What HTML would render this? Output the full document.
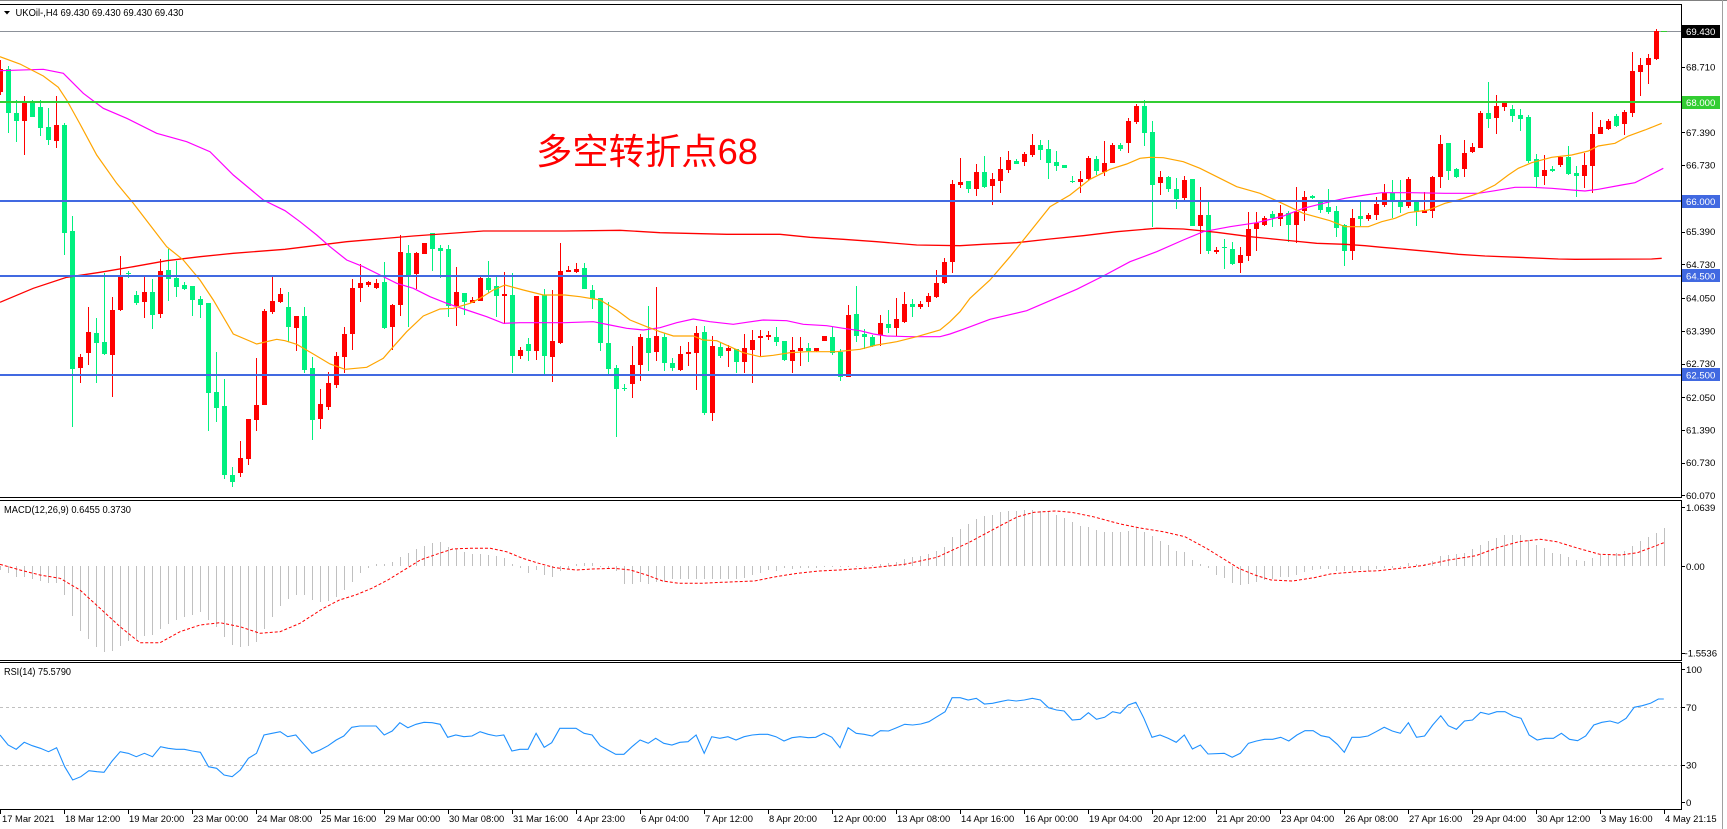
<!DOCTYPE html>
<html><head><meta charset="utf-8">
<style>
html,body{margin:0;padding:0;background:#fff;overflow:hidden;}
svg{display:block;}
text{font-family:"Liberation Sans",sans-serif;}
</style></head>
<body>
<svg width="1727" height="829" viewBox="0 0 1727 829" xmlns="http://www.w3.org/2000/svg">
<rect width="1727" height="829" fill="#fff"/>
<rect x="0" y="0" width="1727" height="1" fill="#808080" shape-rendering="crispEdges"/>
<!-- price line -->
<rect x="0" y="31" width="1682" height="1" fill="#8c9199" shape-rendering="crispEdges"/>
<rect x="1661" y="31" width="6" height="1" fill="#32cd32" shape-rendering="crispEdges"/>
<!-- RSI levels -->
<line x1="0" y1="707.5" x2="1681" y2="707.5" stroke="#c0c0c0" stroke-width="1" stroke-dasharray="3 3" shape-rendering="crispEdges"/>
<line x1="0" y1="765.5" x2="1681" y2="765.5" stroke="#c0c0c0" stroke-width="1" stroke-dasharray="3 3" shape-rendering="crispEdges"/>
<g id="bars" shape-rendering="crispEdges"></g>
<g id="candles" shape-rendering="crispEdges"></g>
<!-- MAs -->
<polyline fill="none" stroke="#ff0000" stroke-width="1.3" points="0,302.3 33.3,288.3 66.7,277.3 100,272.3 133.3,266.7 166.7,260.7 200,256.7 233.3,253.3 285,249.3 346.7,241.7 413.3,236 483.3,231 565,231 620,230.3 660,232.7 726.7,234.3 780,234.3 810,237.3 843.3,239.3 876.7,241.7 916.7,245 960,245.7 983.3,244.3 1016.7,242.7 1050,239 1083.3,235.7 1116.7,231.7 1156.7,228.3 1183.3,229 1216.7,232.3 1250,236.7 1283.3,240 1316.7,243.3 1345,244.3 1365,245.7 1381.7,247.3 1405,249.3 1431.7,251.7 1458.3,254.3 1485,256 1518.3,257.3 1558.3,259 1575,259.3 1651.7,259 1661.7,258.3"/>
<polyline fill="none" stroke="#ff00ff" stroke-width="1.2" points="0,70.7 43.3,69.3 63.3,73.3 83.3,93.3 103.3,108.3 126.7,118.3 156.7,133.3 186.7,141.7 210,151.7 233.3,175 263.3,200 285,210.7 300,221.7 316.7,235 330,246.7 346.7,260 363.3,266.7 380,275 396.7,283.3 413.3,288.3 430,296.7 446.7,303.3 466.7,310 486.7,316.7 503.3,323.3 520,322.7 565,322.7 593.3,321.7 610,325 626.7,328.3 643.3,330 660,327.7 676.7,322.7 693.3,319 710,321.7 733.3,324.3 746.7,322.3 763.3,320 786.7,320.7 803.3,324.3 826.7,325.7 843.3,328.3 860,330.7 873.3,334 886.7,336 910,336.7 940,336.7 950,334 963.3,329.3 990,319.3 1026.7,310.7 1050,300.7 1076.7,289.3 1103.3,276 1130,261.7 1156.7,251.7 1183.3,240 1203.3,231.7 1230,226.7 1256.7,222.7 1283.3,216 1303.3,208.3 1330,201.7 1345,198.3 1365,195 1381.7,192.7 1411.7,192.7 1445,193.3 1478.3,193.3 1495,190.7 1515,187.3 1531.7,187.3 1551.7,188.3 1571.7,190 1585,191 1598.3,189.3 1621.7,185 1635,182.7 1648.3,176 1663.3,168.3"/>
<polyline fill="none" stroke="#ffa500" stroke-width="1.2" points="0,56.7 20,64 43.3,76 58.3,87.3 66.7,100 80,124 96.7,155 116.7,183.3 133.3,203.3 150,225 166.7,246.7 183.3,260 200,280 213.3,300 233.3,334 256.7,344 276.7,339.3 285,340.7 296.7,344.3 313.3,354 330,364 345,369.3 366.7,367.3 383.3,358.3 393.3,346.7 406.7,331.7 423.3,316 440,309 453.3,308.3 470,303.3 480,298.3 493.3,290 505,285 523.3,290 543.3,295 565,295 580,296.7 600,300 616.7,310 630,320 646.7,326.7 660,331.7 673.3,336 693.3,336 703.3,340 716.7,340.7 730,346.7 743.3,352.7 760,356.7 773.3,355.3 790,352.7 806.7,351.7 836.7,351.7 860,349.3 876.7,345 896.7,341.7 916.7,336.7 940,330 950,321.7 960,311.7 970,298.3 990,280 1010,256.7 1030,231.7 1050,206.7 1070,195 1090,179.3 1110,169.3 1126.7,164 1140,158.3 1150,157.3 1163.3,157.7 1183.3,161.7 1200,168.3 1220,178.3 1236.7,186.7 1260,193.3 1280,202.3 1303.3,213.3 1330,220.7 1345,226.7 1368.3,226.7 1381.7,221.7 1395,218.3 1408.3,212.7 1428.3,210 1445,203.3 1458.3,200 1478.3,193.3 1495,185 1508.3,175 1518.3,168.3 1531.7,162.7 1551.7,157.3 1571.7,155 1588.3,151 1598.3,146 1615,143.3 1628.3,136 1645,130 1661.7,123.3"/>
<!-- horizontal levels -->
<g shape-rendering="crispEdges">
<rect x="0" y="101" width="1682" height="2" fill="#32cd32"/>
<rect x="0" y="200" width="1682" height="2" fill="#4169e1"/>
<rect x="0" y="275" width="1682" height="2" fill="#4169e1"/>
<rect x="0" y="374" width="1682" height="2" fill="#4169e1"/>
</g>
<text x="536" y="164" font-size="36" fill="#ff0000" textLength="222" lengthAdjust="spacingAndGlyphs" style="font-family:'Liberation Sans','Noto Sans CJK SC',sans-serif">多空转折点68</text>
<!-- MACD signal -->
<polyline fill="none" stroke="#ff0000" stroke-width="1" stroke-dasharray="3 2" points="0,564.3 20,570 40,575 60,578.3 80,590 100,608.3 120,626.7 140,642.7 160,642.7 180,631.7 200,625 220,622.7 240,626.7 260,633.3 280,631.7 300,623.3 323.3,608.3 339.4,600 355.6,595 371.8,588.3 387.9,580 404.1,570 420.3,560 436.4,554.3 452.6,549 468.8,548.3 490.3,548.3 506.5,551.7 522.6,558.3 538.8,563.3 555,567.7 576.5,570 592.7,569 614.2,568.3 630.4,570 646.6,575 662.7,581 678.9,583.3 700.4,583.3 722,582.3 754.3,581 775.9,576.7 797.4,573.3 819,571 840,570 872.3,567.7 904.7,564.3 937,557.3 969.3,542.3 1001.6,525 1017.8,516.7 1034,512.3 1055.5,511 1071.7,512.3 1093.2,516.7 1120.2,524 1141.7,528.3 1163.3,531.7 1184.9,536.7 1206.4,548.3 1222.6,558.3 1238.7,568.3 1254.9,575 1271,580 1292.6,581 1314.1,577.7 1330.3,574 1357.2,571.7 1378.7,570.7 1400.3,568.3 1421.8,565.7 1448.8,560 1475.8,555.7 1497.3,547.7 1518.9,541.7 1540.4,539.3 1556.6,541.7 1578.2,548.3 1599.7,554.3 1621.3,555 1637.4,552.7 1653.6,546.7 1663.8,542.7"/>
<!-- RSI -->
<polyline fill="none" stroke="#1e90ff" stroke-width="1.1" points="0,735 8.1,745 16.2,749.3 24.2,742.3 32.3,745.7 40.4,748.3 48.5,751.7 56.6,747.7 64.7,766.7 72.7,780 80.8,776.7 88.9,770.7 97,771.7 104,772.3 112.1,761 120.2,751.7 128.2,753.3 136.3,756.7 144.4,753.3 152.5,756.7 160.6,746.7 168.1,748.3 176.2,749.3 184.3,749.3 192.3,751 200.4,752.3 208.5,766.7 216.6,768.3 224.1,775 232.2,776.7 240.3,770 248.4,758.3 256.5,753.3 264,735 272.1,733.3 280.2,731.7 287.7,736.7 295.8,735 303.9,744.3 312,753.3 320,750 328.1,745.7 336.2,740 343.8,736 351.8,727.3 359.9,726 376.1,726 384.2,735 392.2,731 399.8,722.7 407.9,727.7 416,724.3 424,722.3 432.1,722.7 440.2,724.3 447.7,737.3 455.8,735 463.9,736.7 472,736 480.1,731.7 488.1,734.3 496.2,736 503.8,735 511.9,751 519.9,749.3 528,749.3 536.1,733.3 544.2,747.3 551.7,742.7 559.8,728.3 576,728.3 584.1,733.3 592.1,735 600.2,745.7 607.8,750 615.8,754.3 623.9,754.3 632,746.7 640.1,740 648.2,743.3 655.7,738.3 663.8,743.3 671.9,745 679.9,742.3 688,741.7 696.1,735 704.2,753.3 711.7,736.7 719.8,738.3 727.9,736.7 736,740 744.1,736.7 752.2,735 759.7,734.3 767.8,734.3 775.9,736.7 784,741 792,737.7 800.1,736.7 808.2,737.7 815.7,737.3 823.8,733.3 831.9,737.3 840,747.7 848.1,727.7 856.2,733.3 864.2,734.3 872.3,736 880.4,730.7 888.5,731 896.6,727.7 904.7,724.3 912.7,725 920.8,724 928.9,721.7 937,716.7 945.1,711.7 952.1,697.7 960.2,697.7 968.2,700 976.3,698.3 984.4,704 992.5,703.3 1000,701.7 1008.1,700 1016.2,701 1024.3,700 1032.3,698.3 1040.4,700 1048.5,707.7 1056.6,710 1064.1,711 1072.2,720 1080.3,719.3 1088.4,712.7 1096.5,719.3 1104.6,717.3 1112.6,711.7 1120.2,713.3 1128.3,705 1135.8,702.3 1143.9,718.3 1152,737.3 1160,735 1168.1,738.3 1176.2,742.3 1184.3,735 1192.4,749 1200.4,745 1208,754 1224.2,753.3 1232.2,757.3 1240.3,753.3 1248.4,743.3 1256.5,741 1264.6,739.3 1272.6,739.3 1280.7,737.3 1288.8,741 1296.9,735 1305,730.7 1313.1,730.7 1321.1,735.7 1329.2,737.3 1337.3,744.3 1344.3,752.3 1351.9,737.3 1359.9,737.3 1368,736 1376.1,731.7 1384.2,727.3 1392.3,731 1400.3,733.3 1408.4,722.7 1416.5,737.3 1424.6,736 1432.7,725 1440.8,715.7 1448.3,725.7 1456.4,729.3 1464.5,721 1472.5,720 1480.6,712.3 1488.7,714.3 1496.8,711.7 1504.9,711.7 1513,716 1521.1,718.3 1529.1,735 1537.2,740 1545.3,738.3 1553.4,738.3 1561.4,733.3 1569.5,739.3 1577.6,740.7 1585.7,736 1593.8,725 1601.9,722.3 1610,721 1618,723.3 1626.1,718.3 1634.2,707.3 1642.3,705.7 1650.4,703.3 1658.4,699 1663.8,699"/>
<!-- borders -->
<g fill="#000" shape-rendering="crispEdges">
<rect x="0" y="4" width="1682" height="1"/>
<rect x="0" y="497" width="1682" height="1"/>
<rect x="0" y="500" width="1682" height="1"/>
<rect x="0" y="660" width="1682" height="1"/>
<rect x="0" y="662" width="1682" height="1"/>
<rect x="0" y="809" width="1682" height="1"/>
<rect x="1681" y="4" width="1" height="494"/>
<rect x="1681" y="500" width="1" height="161"/>
<rect x="1681" y="662" width="1" height="148"/>
</g>
<rect x="1722" y="0" width="1" height="829" fill="#a0a0a0" shape-rendering="crispEdges"/>
<g id="ticks" fill="#000" shape-rendering="crispEdges"></g>
<!-- header -->
<polygon points="4,11 10,11 7,14.5" fill="#000"/>
<text x="15.5" y="16" font-size="10" fill="#000" textLength="168" lengthAdjust="spacingAndGlyphs">UKOil-,H4  69.430 69.430 69.430 69.430</text>
<text x="4" y="513" font-size="10" fill="#000" textLength="127" lengthAdjust="spacingAndGlyphs">MACD(12,26,9) 0.6455 0.3730</text>
<text x="4" y="675" font-size="10" fill="#000" textLength="67" lengthAdjust="spacingAndGlyphs">RSI(14) 75.5790</text>
<!-- price axis -->
<g font-size="9.6" fill="#000">
<text x="1686" y="70.5">68.710</text>
<text x="1686" y="136">67.390</text>
<text x="1686" y="168.7">66.730</text>
<text x="1686" y="235.1">65.390</text>
<text x="1686" y="267.9">64.730</text>
<text x="1686" y="301.6">64.050</text>
<text x="1686" y="334.3">63.390</text>
<text x="1686" y="367.1">62.730</text>
<text x="1686" y="400.8">62.050</text>
<text x="1686" y="433.5">61.390</text>
<text x="1686" y="466.2">60.730</text>
<text x="1686" y="499">60.070</text>
<text x="1686" y="511">1.0639</text>
<text x="1686" y="570.2">0.00</text>
<text x="1684.5" y="656.5">-1.5536</text>
<text x="1686" y="673">100</text>
<text x="1686" y="711">70</text>
<text x="1686" y="768.5">30</text>
<text x="1686" y="806">0</text>
</g>
<g shape-rendering="crispEdges">
<rect x="1682" y="25" width="38" height="13" fill="#000"/>
<rect x="1682" y="96" width="38" height="13" fill="#32cd32"/>
<rect x="1682" y="195" width="38" height="13" fill="#4169e1"/>
<rect x="1682" y="269" width="38" height="13" fill="#4169e1"/>
<rect x="1682" y="368" width="38" height="13" fill="#4169e1"/>
</g>
<g font-size="9.6" fill="#fff">
<text x="1686" y="35">69.430</text>
<text x="1686" y="105.9">68.000</text>
<text x="1686" y="204.9">66.000</text>
<text x="1686" y="279.3">64.500</text>
<text x="1686" y="378.5">62.500</text>
</g>
<!-- time axis -->
<g font-size="9.4" fill="#000">
<text x="2" y="822">17 Mar 2021</text>
<text x="65" y="822">18 Mar 12:00</text>
<text x="129" y="822">19 Mar 20:00</text>
<text x="193" y="822">23 Mar 00:00</text>
<text x="257" y="822">24 Mar 08:00</text>
<text x="321" y="822">25 Mar 16:00</text>
<text x="385" y="822">29 Mar 00:00</text>
<text x="449" y="822">30 Mar 08:00</text>
<text x="513" y="822">31 Mar 16:00</text>
<text x="577" y="822">4 Apr 23:00</text>
<text x="641" y="822">6 Apr 04:00</text>
<text x="705" y="822">7 Apr 12:00</text>
<text x="769" y="822">8 Apr 20:00</text>
<text x="833" y="822">12 Apr 00:00</text>
<text x="897" y="822">13 Apr 08:00</text>
<text x="961" y="822">14 Apr 16:00</text>
<text x="1025" y="822">16 Apr 00:00</text>
<text x="1089" y="822">19 Apr 04:00</text>
<text x="1153" y="822">20 Apr 12:00</text>
<text x="1217" y="822">21 Apr 20:00</text>
<text x="1281" y="822">23 Apr 04:00</text>
<text x="1345" y="822">26 Apr 08:00</text>
<text x="1409" y="822">27 Apr 16:00</text>
<text x="1473" y="822">29 Apr 04:00</text>
<text x="1537" y="822">30 Apr 12:00</text>
<text x="1601" y="822">3 May 16:00</text>
<text x="1665" y="822">4 May 21:15</text>
</g>
</svg>
<script>
(function(){
var C=[[69,91.7,60,95,1],[69,112.7,66,132.7,0],[112.7,120.7,100,141.7,0],[102.3,120.7,96,155,1],[102.3,116.7,100,116.7,0],[106.7,127.7,100,136,0],[127.3,140,108.3,145,0],[125,140.7,96,148.3,1],[125,232.7,122.7,255,0],[231,369,216,426.7,0],
[356.7,367.7,354,382.7,1],[332.3,352.7,306.7,365,1],[333.3,342.7,317.7,383.3,0],[342.3,354,273.3,355,0],[310,354.7,296.7,396.7,1],[275,310,256,310.7,1],[272.7,274,270.7,278.3,0],[295.3,302.7,290.7,305,0],[292,301.7,275,317.7,1],[292,315,278.7,329.3,0],
[270.7,314,259,317.7,1],[270,278.7,249,300.7,0],[277.7,286.7,260.7,296.7,0],[285,288.7,282.3,290,0],[286,300,286,316,0],[299,305,296,317.7,0],[303.3,393.3,302.7,430.7,0],[391.7,407.7,351.7,421.7,0],[405.7,475,379,479.3,0],[475,481.7,466.7,486.7,0],
[457.7,472.7,441,476.7,1],[419,459,419,465,1],[405,420,358.3,430.7,1],[310.7,405,308.7,405,1],[301,311.7,275,314,1],[294,301.7,287.7,303.3,1],[307.3,326.7,291.7,341.7,0],[316,327.7,316,350.7,1],[316,370,307.3,372.7,0],[368.3,420,357.3,440,0],
[404,419,389,429,1],[382.7,407.3,371.7,410,1],[356,385,351.7,387.7,1],[334,356.7,326.7,372.7,1],[287.7,334,279,350,1],[282.7,287.7,264,301.7,1],[282.3,285.3,281,286.7,1],[283.3,288.3,279,289.3,1],[281.7,328.3,261.7,329.3,0],[305,326.7,304,350,1],
[251.7,305,235,316,1],[253.3,275,245,327.3,0],[253.3,274,251.7,289.3,1],[242.7,254,242.7,254,1],[233.3,249,233.3,270.7,0],[248.3,250.7,245,277.7,0],[249.3,306,245,316.7,0],[292.3,306,267.3,326,1],[293.3,301.7,293.3,315,0],[300,302.7,296.7,303.3,1],
[277.7,300.7,275,300.7,1],[278.3,290,261,292.7,0],[286,296,276,316.7,0],[294.3,296,272.3,324,1],[295,355.7,273.3,373.3,0],[350,355.7,347.3,359,1],[344,350.7,338.3,361,0],[296,350.7,296,360,1],[295,356,289,375.7,0],[341,356.7,290,381.7,1],
[271,342.7,243.3,344,1],[270,271.7,266,271.7,1],[269,272,262.7,272.7,1],[268.3,289.3,262.7,289.3,0],[290,299,285,309.3,0],[298,342.7,298,350.7,0],[343.3,368.7,301.7,375,0],[368.3,389,365,437.3,0],[388,389.3,384,390.7,0],[365,384.3,345.7,397.7,1],
[336.7,364.7,334,381,1],[337.7,352.7,306,370.7,0],[336,351.7,287.3,360.7,1],[336.7,362.7,332.7,370.7,0],[362.7,367.7,358.3,370.7,0],[354,370,346,370.7,1],[351.7,354,341.7,366,1],[333.3,352.7,326,390,1],[331.7,413.3,326,415,0],[345.7,413.3,336,420.7,1],
[346.7,356,341.7,358.3,0],[347.7,350.7,345,367.3,1],[349,361.7,349,372.7,0],[348.3,361.7,334,372.7,1],[340,350,330,382.7,1],[336,338.3,330,357.3,1],[335,337.3,331,340,1],[336.7,341.7,326.7,346,0],[341,360,341,361,0],[350,360.7,336.7,372.7,1],
[347.7,350.7,336.7,366,1],[347.7,350.7,343.3,361.7,0],[347.7,350.7,347.7,351.7,1],[336,340.7,336,340.7,1],[336.7,352.7,326.7,355,0],[351.7,376.7,349,380.7,0],[315,376.7,305,377.3,1],[314,336,286,341.7,0],[334.3,337.3,329.3,349.3,0],[336.7,346,335,346.7,0],
[322.7,335,315,346,1],[324,327.7,310,332.7,0],[319,328.3,298.3,336,1],[304,321.7,291.7,322.7,1],[304,307.3,299,317.3,0],[304,307.3,301,309.3,1],[296,301.7,293.3,307.3,1],[283.3,296.7,270,297.7,1],[261.7,282.7,257.7,284,1],[184.3,261.7,180,273.3,1],
[182,184.7,158.3,188.3,1],[181,189.3,181,193.3,0],[171.7,189,164,196,1],[171.7,186.7,156,188.3,0],[179,185.7,172.7,205,1],[169,180.7,157.3,192.7,1],[160,170,151,172.7,1],[161,164.3,159.3,164.3,0],[154,161.7,151.7,166,1],[145,155,134,156.7,1],
[145,150,140,160,0],[149,162.7,140,179.3,0],[162,166,151,170.7,0],[165.3,167.7,165.3,167.7,0],[180.7,182.3,175.7,182.7,0],[179,182,170.7,192.7,1],[157.7,179.3,155.7,180,1],[159,171,155.7,175,0],[162.7,172.3,141,175.7,1],[145,162.7,143.3,162.7,1],
[145,149,143.3,150.7,0],[121,142.7,117.7,153.3,1],[105.7,121.7,104.3,124.3,1],[105.7,132.7,100,146,0],[131.7,185,121,226.7,0],[177.3,182.7,171,195,1],[177.3,189,175.7,191.7,0],[189,199,178.3,209.3,0],[180,198.3,176,200.7,1],[179,225.7,179,226,0],
[215,225.7,186.7,254,1],[215,251,201.7,254,0],[250,252.3,246.7,254,1],[246.7,248.3,239,269.3,0],[249,264.3,241.7,265,0],[255,262.7,246.7,272.7,1],[229,255.7,211.7,260.7,1],[223.3,229,211.7,250.7,1],[218.3,225,216,226,1],[214,218.3,211,226.7,0],
[213.3,219,205,226,1],[213.3,225,211,242.3,0],[211.7,225,186.7,243.3,1],[197.3,210.7,190.7,220.7,1],[196,198.3,195.3,199,0],[201,210,201,213.3,0],[207.3,211.7,189,214.3,0],[211,227.7,206,237.3,0],[225,250.7,224.3,265.7,0],[217.7,250.7,209.3,260,1],
[216,219,201.7,226,0],[215,219,212.7,220.7,1],[204,215,197.3,220,1],[192.7,205,184,206.7,1],[192.7,200,180,218.3,0],[200,206.7,180,213.3,0],[179,206,176.7,208.3,1],[201,212.3,201,225.7,0],[210,212.7,192.3,212.7,1],[176.7,210.7,176,217.7,1],
[144,177.3,135,188.3,1],[143.3,170.7,143.3,180,0],[169,177.3,167.7,178.3,0],[152.7,169,140,177.3,1],[146.7,152.3,143.3,153.3,1],[112.7,147.7,110.7,148.3,1],[113.3,119,81.7,127.7,0],[106,117.7,95,134.3,1],[102.7,106.7,102.7,110.7,1],[109,115.7,105,121.7,0],
[115,119,109.3,131,0],[117.3,161,115,163.3,0],[159.3,176.7,154,188.3,0],[170,176,155,185,1],[169,171,165.7,171.7,0],[156.7,165,156,166.7,1],[156.7,174,146,175,0],[172.7,175.7,165.7,197.3,0],[165,175.7,152.7,188.3,1],[134,165.7,111.7,193.3,1],
[127.3,134,120,134,1],[121,129,119.3,130,1],[116,125.7,114.3,126.7,0],[112.3,124,110,135,1],[71,112.7,52.3,116.7,1],[65,71.7,57.7,95.7,1],[57.7,65,54,84,1],[31,59,29,60,1]];
var g='',i,c,x,col,t,b,wt,wb;
for(i=0;i<C.length;i++){c=C[i];x=8*i;col=c[4]?'#ff0000':'#00f07f';
t=Math.round(c[0]);b=Math.round(c[1]);if(b-t<1)b=t+1;
wt=Math.round(Math.min(c[2],c[0]));wb=Math.round(Math.max(c[3],c[1]));if(wb-wt<1)wb=wt+1;
g+='<rect x="'+x+'" y="'+wt+'" width="1" height="'+(wb-wt)+'" fill="'+col+'"/>';
g+='<rect x="'+(x-2)+'" y="'+t+'" width="5" height="'+(b-t)+'" fill="'+col+'"/>';}
document.getElementById('candles').innerHTML=g;
var M=[570,572.7,576.7,576.7,579,580.7,583.3,583.3,595,616,630.7,639.3,646.7,651.7,650.7,645.7,640.7,639.3,635.7,635,629,624,620,616.7,615,611.7,620,627.3,636.7,645,647.3,645.7,641.7,629,616.7,606,599.3,595,
595,600,601.7,600.7,596.7,590,581.7,573.3,567.7,564,564,562.3,556.7,553.3,549,546,542.7,541.7,546.7,549,551.7,554,554,555,555.7,557.7,564.3,568.3,572.7,570,575,576.7,570.7,569,564.3,563.3,563.3,566.7,568.3,571,584,584,581.7,584,581.7,582.3,
579,579,579,579,579,579,579,579,579,577.7,575,573.3,570,570.7,568.3,569.3,568.3,568.3,568.3,566.7,566,
566,566,566.7,565.7,565,563.7,562.7,561.7,559,557.3,555.7,554,551,547,537.3,529,524,519,516,515,512.3,511,510.7,510,510,510.7,511.7,515,517.7,521.7,526,527.3,530,531.7,531.7,531.7,530.7,528.3,531.7,536,541,545,551,552.3,560,564.3,568.3,575,577.7,582.7,585,584,581.7,580,579.3,577.3,576.7,575,571.7,570,569.3,569,570.7,570.7,570.7,570,570.7,569,568.3,567.7,566.3,563.3,564,564,561,556,555,554.3,552.7,549,545,541,537.7,535,535,535,540,545,548.3,553.3,554,556.7,560,560.7,558.3,555,555,553.3,551,546,540.7,536.7,532.7,528.3];
var h='',z=566,y,a,bb;
for(i=0;i<M.length;i++){y=Math.round(M[i]);a=Math.min(z,y);bb=Math.max(z,y);if(bb-a<1)bb=a+1;
h+='<rect x="'+(8*i)+'" y="'+a+'" width="1" height="'+(bb-a)+'" fill="#c0c0c0"/>';}
document.getElementById('bars').innerHTML=h;
var tk='',ys=[31,67,102,132,165,201,232,264,276,298,331,364,375,397,430,463,495,507,566,653,669,707,765,802];
for(i=0;i<ys.length;i++){tk+='<rect x="1682" y="'+ys[i]+'" width="3" height="1"/>';}
for(i=0;i<=26;i++){tk+='<rect x="'+(1664-64*i)+'" y="809" width="1" height="5"/>';}
document.getElementById('ticks').innerHTML=tk;
})();
</script>
</body></html>
